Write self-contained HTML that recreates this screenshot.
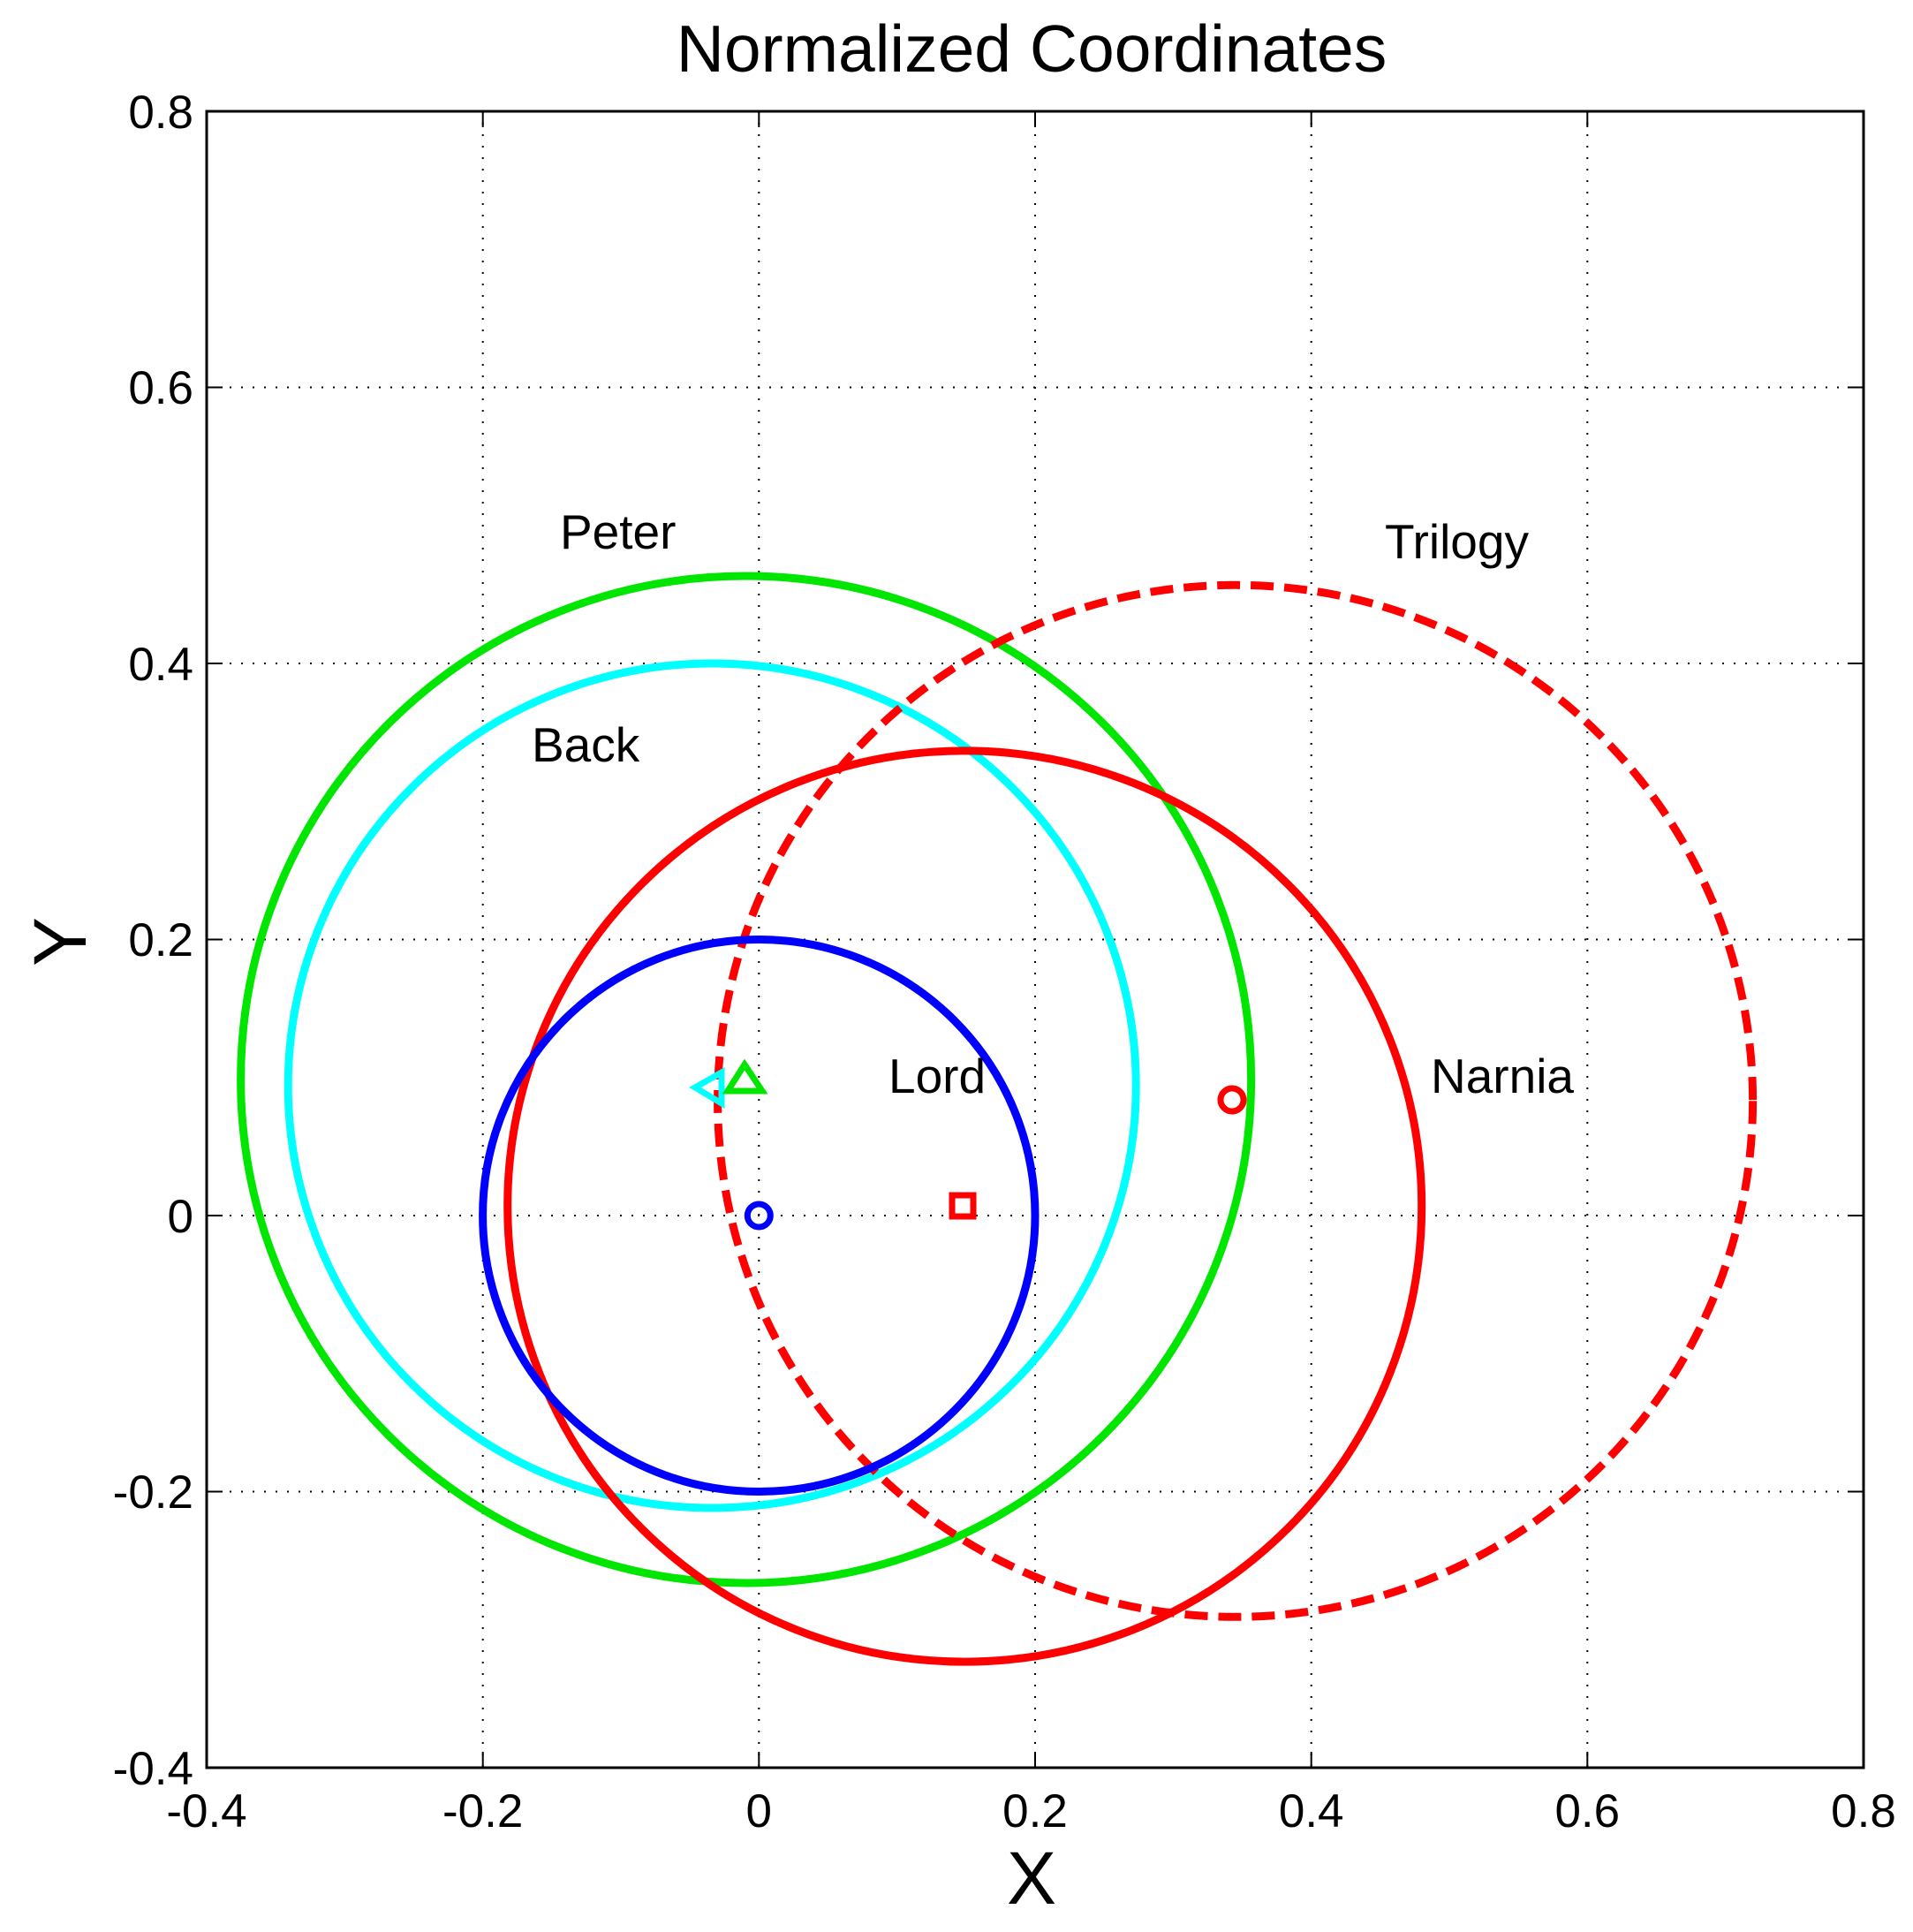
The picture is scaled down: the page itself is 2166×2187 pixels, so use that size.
<!DOCTYPE html>
<html><head><meta charset="utf-8"><style>
html,body{margin:0;padding:0;background:#fff}
svg{display:block}
text{font-family:"Liberation Sans",sans-serif;fill:#000}
</style></head><body>
<svg width="2166" height="2187" viewBox="0 0 2166 2187" xmlns="http://www.w3.org/2000/svg">
<rect width="2166" height="2187" fill="#fff"/>
<g stroke="#000" stroke-width="2" stroke-dasharray="2,11">
<line x1="546.7" y1="126" x2="546.7" y2="2001"/>
<line x1="859.3" y1="126" x2="859.3" y2="2001"/>
<line x1="1172" y1="126" x2="1172" y2="2001"/>
<line x1="1484.7" y1="126" x2="1484.7" y2="2001"/>
<line x1="1797.3" y1="126" x2="1797.3" y2="2001"/>
<line x1="234" y1="438.5" x2="2110" y2="438.5"/>
<line x1="234" y1="751" x2="2110" y2="751"/>
<line x1="234" y1="1063.5" x2="2110" y2="1063.5"/>
<line x1="234" y1="1376" x2="2110" y2="1376"/>
<line x1="234" y1="1688.5" x2="2110" y2="1688.5"/>
</g>
<g fill="none" stroke-width="9">
<ellipse cx="844.6" cy="1222" rx="572" ry="570" stroke="#00e600"/>
<ellipse cx="806.2" cy="1229" rx="480" ry="478" stroke="#00ffff"/>
<ellipse cx="1092.2" cy="1365.5" rx="517.5" ry="515.6" stroke="#ff0000"/>
<ellipse cx="1398.6" cy="1246.3" rx="586" ry="584" stroke="#ff0000" stroke-dasharray="26,12"/>
<ellipse cx="859.3" cy="1376" rx="312.7" ry="312.5" stroke="#0000ff"/>
</g>
<g fill="none" stroke-width="7">
<circle cx="859.3" cy="1376" r="13" stroke="#0000ff"/>
<rect x="1078" y="1353" width="24" height="24" stroke="#ff0000"/>
<circle cx="1395" cy="1245" r="13" stroke="#ff0000"/>
<polygon points="787,1231 817,1214 817,1249" stroke="#00ffff"/>
<polygon points="843,1205 863,1235 824,1235" stroke="#00e600"/>
</g>
<rect x="234" y="126" width="1876" height="1875" fill="none" stroke="#000" stroke-width="3"/>
<g stroke="#000" stroke-width="2">
<path d="M546.7 2001v-18M859.3 2001v-18M1172 2001v-18M1484.7 2001v-18M1797.3 2001v-18M546.7 126v18M859.3 126v18M1172 126v18M1484.7 126v18M1797.3 126v18M234 438.5h18M234 751h18M234 1063.5h18M234 1376h18M234 1688.5h18M2110 438.5h-18M2110 751h-18M2110 1063.5h-18M2110 1376h-18M2110 1688.5h-18"/>
</g>
<g font-size="53" text-anchor="middle">
<text x="234" y="2068">-0.4</text>
<text x="546.7" y="2068">-0.2</text>
<text x="859.3" y="2068">0</text>
<text x="1172" y="2068">0.2</text>
<text x="1484.7" y="2068">0.4</text>
<text x="1797.3" y="2068">0.6</text>
<text x="2110" y="2068">0.8</text>
</g>
<g font-size="53" text-anchor="end">
<text x="219" y="145">0.8</text>
<text x="219" y="457">0.6</text>
<text x="219" y="770">0.4</text>
<text x="219" y="1082">0.2</text>
<text x="219" y="1395">0</text>
<text x="219" y="1707">-0.2</text>
<text x="219" y="2020">-0.4</text>
</g>
<text x="1168" y="81" font-size="75" text-anchor="middle">Normalized Coordinates</text>
<text x="1168" y="2155" font-size="84" text-anchor="middle">X</text>
<text transform="translate(97,1066) rotate(-90)" font-size="84" text-anchor="middle">Y</text>
<g font-size="55">
<text x="634" y="621">Peter</text>
<text x="602" y="862">Back</text>
<text x="1006" y="1237">Lord</text>
<text x="1568" y="632">Trilogy</text>
<text x="1620" y="1237">Narnia</text>
</g>
</svg>
</body></html>
